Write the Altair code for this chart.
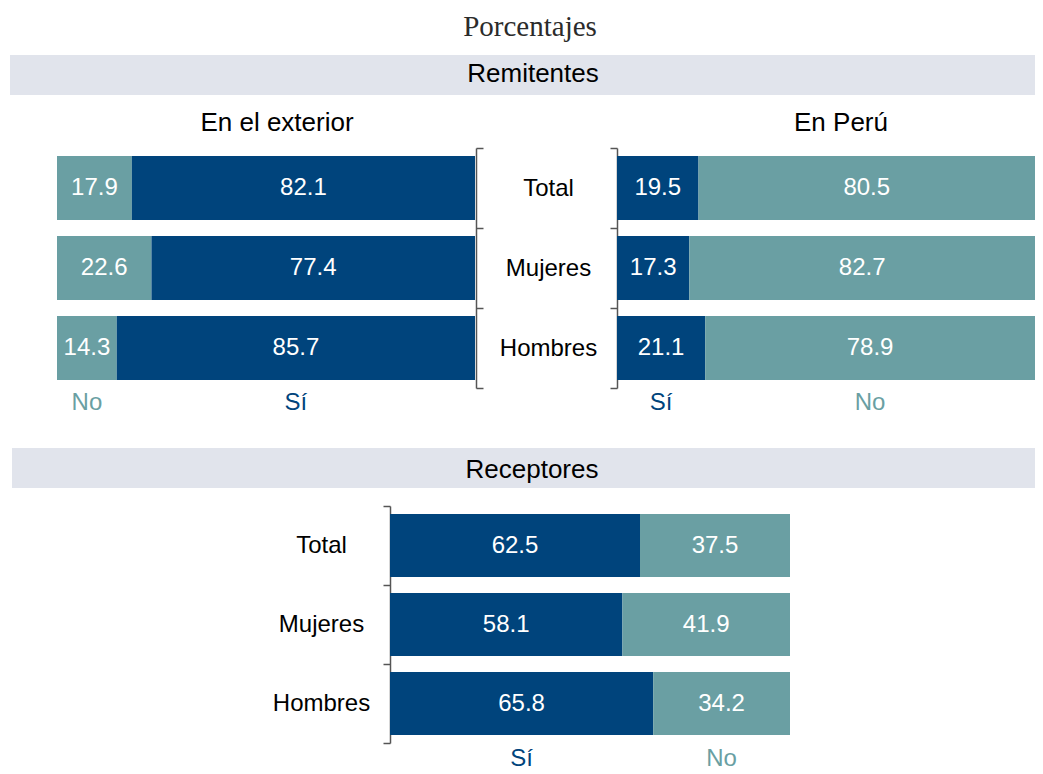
import altair as alt
import pandas as pd

# ---- data ----
titulo = "Porcentajes"
secciones = ["Remitentes", "Receptores"]
paneles = ["En el exterior", "En Perú"]
categorias = ["Total", "Mujeres", "Hombres"]
respuestas = ["Sí", "No"]

ext_no = [17.9, 22.6, 14.3]
ext_si = [82.1, 77.4, 85.7]
peru_si = [19.5, 17.3, 21.1]
peru_no = [80.5, 82.7, 78.9]
rec_si = [62.5, 58.1, 65.8]
rec_no = [37.5, 41.9, 34.2]

DARK = "#00447c"
TEAL = "#6a9fa3"
BAND = "#e1e4ec"
AXC = "#555555"
FONT = "Liberation Sans"
W = 1025


def segs(first_name, first_vals, second_name, second_vals):
    rows = []
    for c, a, b in zip(categorias, first_vals, second_vals):
        rows.append(dict(cat=c, resp=first_name, start=0.0, end=a, mid=a / 2, val=a))
        rows.append(dict(cat=c, resp=second_name, start=a, end=a + b, mid=a + b / 2, val=b))
    df = pd.DataFrame(rows)
    df["color"] = df["resp"].map({"Sí": DARK, "No": TEAL})
    return df


def panel(df, xrange, yaxis):
    xs = alt.Scale(domain=[0, 100], range=xrange)
    ys = alt.Scale(domain=categorias, paddingInner=0, paddingOuter=0)
    base = alt.Chart(df)
    bars = base.mark_bar(cornerRadius=0, height=alt.RelativeBandSize(0.8)).encode(
        x=alt.X("start:Q", scale=xs, axis=None),
        x2="end:Q",
        y=alt.Y("cat:N", scale=ys, axis=yaxis, title=None),
        color=alt.Color("color:N", scale=None),
    )
    text = base.mark_text(color="white", font=FONT, fontSize=24, baseline="middle").encode(
        x=alt.X("mid:Q", scale=xs, axis=None),
        y=alt.Y("cat:N", scale=ys, axis=None),
        text=alt.Text("val:Q", format=".1f"),
    )
    labels = base.transform_filter(alt.datum.cat == "Hombres").mark_text(
        font=FONT, fontSize=24, baseline="middle", dy=55
    ).encode(
        x=alt.X("mid:Q", scale=xs, axis=None),
        y=alt.Y("cat:N", scale=ys, axis=None),
        text="resp:N",
        color=alt.Color("color:N", scale=None),
    )
    return [bars, text, labels]


def bracket(orient, offset, labels=True, padding=0):
    kw = dict(
        orient=orient, offset=offset, tickBand="extent", domainColor=AXC, tickColor=AXC,
        domainWidth=1.5, tickWidth=1.5, tickSize=7, title=None, labels=labels,
    )
    if labels:
        kw.update(labelAlign="center", labelPadding=padding, labelFont=FONT,
                  labelFontSize=24, labelColor="black", labelBaseline="middle")
    return alt.Axis(**kw)


one = pd.DataFrame({"k": [0]})

# row 1: title + first band
row1 = alt.layer(
    alt.Chart(one).mark_rect(color=BAND).encode(
        x=alt.value(0), x2=alt.value(W), y=alt.value(47), y2=alt.value(87)),
    alt.Chart(one).mark_text(text=titulo, font="Liberation Serif", fontSize=29,
                             color="#2b2b2b", baseline="alphabetic").encode(
        x=alt.value(520), y=alt.value(28)),
    alt.Chart(one).mark_text(text=secciones[0], font=FONT, fontSize=26,
                             color="black", baseline="alphabetic").encode(
        x=alt.value(523), y=alt.value(74)),
).properties(width=W, height=140)

# row 2: remitentes panels
left = panel(segs("No", ext_no, "Sí", ext_si), [47, 465],
             bracket("right", -(W - 466), True, 65))
right = panel(segs("Sí", peru_si, "No", peru_no), [607, 1025],
              bracket("left", -607, False))
ptitles = [
    alt.Chart(one).mark_text(text=paneles[0], font=FONT, fontSize=26, color="black",
                             baseline="alphabetic").encode(x=alt.value(267), y=alt.value(-17)),
    alt.Chart(one).mark_text(text=paneles[1], font=FONT, fontSize=26, color="black",
                             baseline="alphabetic").encode(x=alt.value(831), y=alt.value(-17)),
]
row2 = alt.layer(*left, *right, *ptitles).resolve_scale(
    x="independent", y="independent").resolve_axis(y="independent").properties(width=W, height=240)

# row 3: second band
row3 = alt.layer(
    alt.Chart(one).mark_rect(color=BAND).encode(
        x=alt.value(2), x2=alt.value(W), y=alt.value(60), y2=alt.value(100)),
    alt.Chart(one).mark_text(text=secciones[1], font=FONT, fontSize=26,
                             color="black", baseline="alphabetic").encode(
        x=alt.value(522), y=alt.value(90)),
).properties(width=W, height=118)

# row 4: receptores
bottom = panel(segs("Sí", rec_si, "No", rec_no), [380, 780],
               bracket("left", -380, True, 62))
row4 = alt.layer(*bottom).resolve_scale(
    x="independent", y="independent").resolve_axis(y="independent").properties(width=W, height=237)

chart = alt.vconcat(row1, row2, row3, row4, spacing=0, bounds="flush").properties(
    padding={"left": 2, "top": 0, "right": 0, "bottom": 0}
).configure_view(stroke=None)

chart.save("out.html", embed_options={"renderer": "svg", "actions": False})
